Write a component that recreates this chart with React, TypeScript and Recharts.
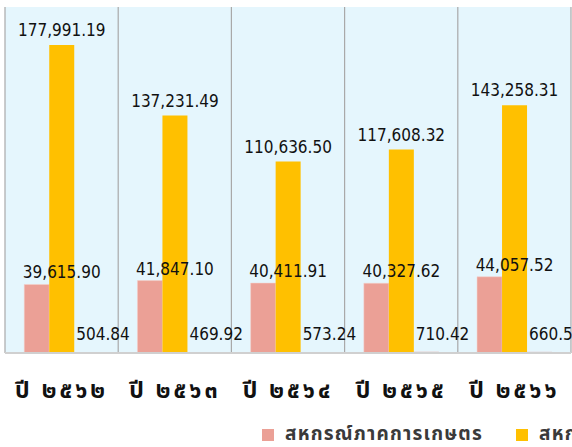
import React from 'react';
import { BarChart, Bar, XAxis, YAxis, CartesianGrid, LabelList, ReferenceLine } from 'recharts';

const categories = ['ปี ๒๕๖๒', 'ปี ๒๕๖๓', 'ปี ๒๕๖๔', 'ปี ๒๕๖๕', 'ปี ๒๕๖๖'];
const agriValues = [39615.9, 41847.1, 40411.91, 40327.62, 44057.52];
const nonAgriValues = [177991.19, 137231.49, 110636.5, 117608.32, 143258.31];
const groupValues = [504.84, 469.92, 573.24, 710.42, 660.53];
const seriesNames = ['สหกรณ์ภาคการเกษตร', 'สหกรณ์นอกภาคการเกษตร', 'กลุ่มเกษตรกร'];
const seriesColors = ['#EBA096', '#FFC000', '#E8A6A0'];
const yTicks = [0, 200000];

const chartData = categories.map((name, i) => ({
  name,
  agri: agriValues[i],
  nonAgri: nonAgriValues[i],
  group: groupValues[i],
}));

const fmt = (v: number) => v.toLocaleString('en-US', { minimumFractionDigits: 2, maximumFractionDigits: 2 });
const labelFont = "'DejaVu Sans Condensed', 'DejaVu Sans', sans-serif";
const thaiFont = "'Noto Sans Thai', 'Noto Sans', 'DejaVu Sans', sans-serif";

// separator lines sit on the category band edges
const bandEdges = ({ offset }: any) =>
  Array.from({ length: categories.length + 1 }, (_, k) => offset.left + (offset.width * k) / categories.length);

// value label; shift = horizontal offset in bar widths, lift = px above bar top
const makeLabel = (shift: number, lift: number) => (props: any) => {
  const { x, y, width, value } = props;
  return (
    <text x={x + width * shift} y={y - lift} textAnchor="middle" fontSize={17} fontFamily={labelFont} fill="#111">
      {fmt(value)}
    </text>
  );
};

const YearTick = (props: any) => {
  const { x, y, payload } = props;
  return (
    <text x={x} y={y + 37} textAnchor="middle" fontSize={23} fontWeight="bold" letterSpacing={3} fontFamily={thaiFont} fill="#111">
      {payload.value}
    </text>
  );
};

export default function App() {
  return (
    <div style={{ position: 'absolute', left: 0, top: 0, width: 572, height: 447, overflow: 'hidden', background: '#fff' }}>
      <BarChart width={572} height={447} data={chartData} margin={{ top: 7, right: 1, left: 5, bottom: 44 }} barCategoryGap="17%" barGap={0}>
        <CartesianGrid
          horizontal={false}
          verticalCoordinatesGenerator={bandEdges}
          fill="#E5F6FD"
          fillOpacity={1}
          stroke="#A9A9A9"
          strokeWidth={1.2}
        />
        <XAxis dataKey="name" height={50} tickLine={false} axisLine={false} tick={<YearTick />} interval={0} />
        <YAxis hide domain={[0, 200000]} ticks={yTicks} />
        <ReferenceLine y={0} stroke="#D0D0D0" strokeWidth={2} />
        <Bar dataKey="agri" fill={seriesColors[0]} stroke="#F6D0CB" strokeWidth={0.5} isAnimationActive={false}>
          <LabelList dataKey="agri" content={makeLabel(1.5, 6)} />
        </Bar>
        <Bar dataKey="nonAgri" fill={seriesColors[1]} isAnimationActive={false}>
          <LabelList dataKey="nonAgri" content={makeLabel(0.5, 9)} />
        </Bar>
        <Bar dataKey="group" fill={seriesColors[2]} isAnimationActive={false}>
          <LabelList dataKey="group" content={makeLabel(1.15, 12)} />
        </Bar>
      </BarChart>
      <div style={{ position: 'absolute', left: 262, top: 420, display: 'flex', whiteSpace: 'nowrap', fontFamily: thaiFont, fontSize: 19, fontWeight: 'bold', letterSpacing: 1.2, color: '#3a3a3a' }}>
        {seriesNames.map((n, i) => (
          <div key={n} style={{ display: 'flex', alignItems: 'center', marginRight: 33 }}>
            <span style={{ display: 'inline-block', width: 12, height: 12, background: seriesColors[i], marginRight: 11 }} />
            <span>{n}</span>
          </div>
        ))}
      </div>
    </div>
  );
}
